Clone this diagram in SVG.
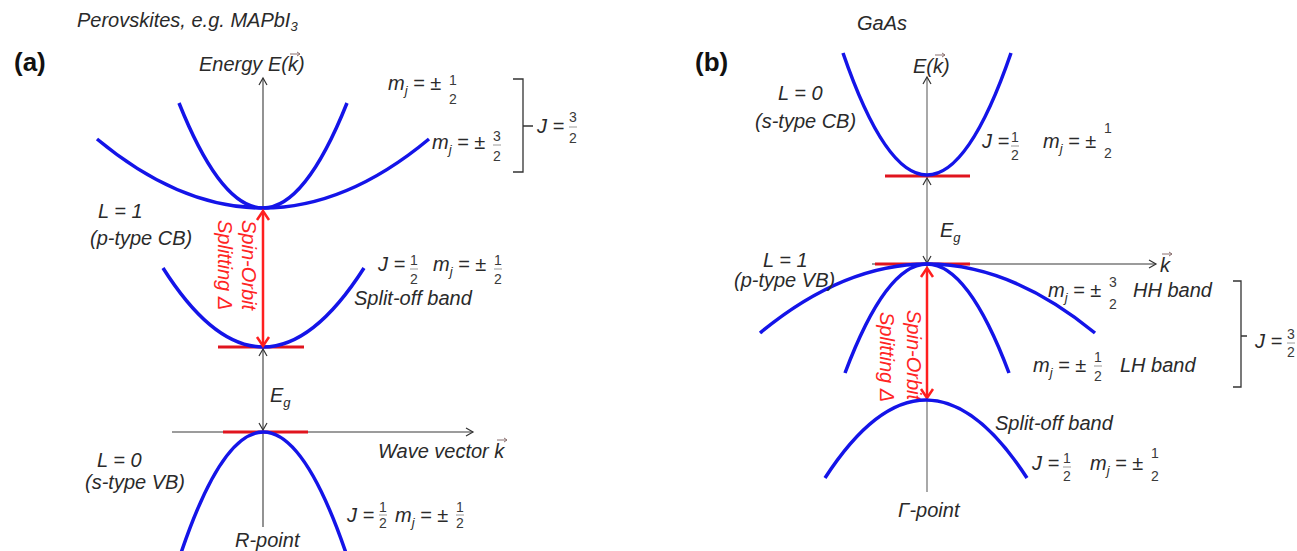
<svg xmlns="http://www.w3.org/2000/svg" width="1297" height="551" viewBox="0 0 1297 551">
<defs>
<style>
.t{font-family:"Liberation Sans",Arial,sans-serif;font-style:italic;font-size:20px;fill:#2a2a2a}
.s{font-size:13px}
.d{font-family:"Liberation Sans",Arial,sans-serif;font-size:14px;fill:#3a3a3a;text-anchor:middle}
.bar{stroke:#9a9a9a;stroke-width:1}
.lbl{font-family:"Liberation Sans",Arial,sans-serif;font-weight:bold;font-size:26px;fill:#111}
.red{font-family:"Liberation Sans",Arial,sans-serif;font-style:italic;font-size:20px;fill:#ff2424}
.band{fill:none;stroke:#1414e8;stroke-width:3.5}
.edge{stroke:#e0141e;stroke-width:3}
.axa{fill:none;stroke:#3a3a3a;stroke-width:1.1}
.axb{fill:none;stroke:#7a7a7a;stroke-width:1.3}
.chev{fill:none;stroke:#333;stroke-width:1.2}
.rarr{fill:none;stroke:#ff1f1f;stroke-width:2.5}
.vec{fill:none;stroke:#8a7070;stroke-width:1}
.brk{fill:none;stroke:#333;stroke-width:1.3}
</style>
</defs>
<rect width="1297" height="551" fill="#ffffff"/>

<g id="panel-a">
  <g id="a-titles">
    <text class="t" x="77" y="27">Perovskites, e.g. MAPbI<tspan class="s" dy="4">3</tspan></text>
    <text class="lbl" x="14" y="71">(a)</text>
  </g>
  <g id="a-axes">
    <line class="axa" x1="263" y1="78" x2="263" y2="527"/>
    <path class="chev" d="M259,85 L263,78 L267,85"/>
    <line class="axa" x1="172" y1="432" x2="473" y2="432"/>
    <path class="chev" d="M466,428 L473,432 L466,436"/>
    <path class="chev" d="M259,356 L263,349 L267,356"/>
    <path class="chev" d="M259,423 L263,430 L267,423"/>
    <text class="t" x="199" y="71">Energy E(k)</text>
    <path class="vec" d="M290,54 H300 M297,52 L300,54 L297,56"/>
    <text class="t" x="378" y="458">Wave vector k</text>
    <path class="vec" d="M497,440 H507 M504,438 L507,440 L504,442"/>
    <text class="t" x="270" y="402">E<tspan class="s" dy="5">g</tspan></text>
    <text class="t" x="235" y="547">R-point</text>
  </g>
  <g id="a-edges">
    <line class="edge" x1="218" y1="347" x2="304" y2="347"/>
    <line class="edge" x1="223" y1="432" x2="308" y2="432"/>
  </g>
  <g id="a-cb-j32">
    <path class="band" d="M179,103 Q263,313 347,103"/>
    <path class="band" d="M97,139 Q263,277 429,139"/>
    <text class="t" x="388" y="90">m<tspan class="s" dy="5">j</tspan><tspan dy="-5"> = ±</tspan></text>
    <text class="d" x="453" y="85">1</text><text class="d" x="453" y="104">2</text>
    <text class="t" x="432" y="149">m<tspan class="s" dy="5">j</tspan><tspan dy="-5"> = ±</tspan></text>
    <text class="d" x="497" y="141">3</text><line class="bar" x1="493" y1="145" x2="501" y2="145"/><text class="d" x="497" y="161">2</text>
    <path class="brk" d="M513,79 H523 V172 H513 M523,126 H533"/>
    <text class="t" x="537" y="133">J =</text>
    <text class="d" x="573" y="122">3</text><line class="bar" x1="569" y1="127" x2="577" y2="127"/><text class="d" x="573" y="143">2</text>
    <text class="t" x="98" y="218">L = 1</text>
    <text class="t" x="90" y="245">(p-type CB)</text>
  </g>
  <g id="a-splitoff">
    <path class="band" d="M163,268 Q263,426 364,268"/>
    <text class="t" x="378" y="271">J =</text>
    <text class="d" x="414" y="265">1</text><line class="bar" x1="410" y1="269" x2="418" y2="269"/><text class="d" x="414" y="284">2</text>
    <text class="t" x="433" y="271">m<tspan class="s" dy="5">j</tspan><tspan dy="-5"> = ±</tspan></text>
    <text class="d" x="498" y="265">1</text><line class="bar" x1="494" y1="269" x2="502" y2="269"/><text class="d" x="498" y="284">2</text>
    <text class="t" x="354" y="305">Split-off band</text>
  </g>
  <g id="a-so-arrow">
    <line class="rarr" x1="263" y1="212" x2="263" y2="344"/>
    <path class="rarr" d="M257,220 L263,211 L269,220"/>
    <path class="rarr" d="M257,337 L263,346 L269,337"/>
    <text class="red" transform="translate(242,220) rotate(90)">Spin-Orbit</text>
    <text class="red" transform="translate(218,220) rotate(90)">Splitting Δ</text>
  </g>
  <g id="a-vb">
    <path class="band" d="M181,553 Q263,311 346,553"/>
    <text class="t" x="97" y="467">L = 0</text>
    <text class="t" x="85" y="489">(s-type VB)</text>
    <text class="t" x="347" y="522">J =</text>
    <text class="d" x="383" y="512">1</text><line class="bar" x1="379" y1="515" x2="387" y2="515"/><text class="d" x="383" y="528">2</text>
    <text class="t" x="395" y="522">m<tspan class="s" dy="5">j</tspan><tspan dy="-5"> = ±</tspan></text>
    <text class="d" x="460" y="512">1</text><line class="bar" x1="456" y1="515" x2="464" y2="515"/><text class="d" x="460" y="528">2</text>
  </g>
</g>

<g id="panel-b">
  <g id="b-titles">
    <text class="t" x="857" y="30">GaAs</text>
    <text class="lbl" x="695" y="71">(b)</text>
  </g>
  <g id="b-axes">
    <line class="axb" x1="927" y1="77" x2="927" y2="492"/>
    <path class="chev" d="M923,84 L927,77 L931,84"/>
    <path class="chev" d="M923,185 L927,178 L931,185"/>
    <path class="chev" d="M923,256 L927,263 L931,256"/>
    <line class="axb" x1="872" y1="264" x2="1156" y2="264"/>
    <path class="chev" d="M1149,260 L1156,264 L1149,268"/>
    <text class="t" x="913" y="73">E(k)</text>
    <path class="vec" d="M935,55 H945 M942,53 L945,55 L942,57"/>
    <text class="t" x="1160" y="272">k</text>
    <path class="vec" d="M1162,254 H1172 M1169,252 L1172,254 L1169,256"/>
    <text class="t" x="940" y="237">E<tspan class="s" dy="5">g</tspan></text>
    <text class="t" x="898" y="517">Γ-point</text>
  </g>
  <g id="b-edges">
    <line class="edge" x1="885" y1="176" x2="970" y2="176"/>
    <line class="edge" x1="875" y1="264" x2="970" y2="264"/>
  </g>
  <g id="b-cb">
    <path class="band" d="M843,53 Q927,297 1011,53"/>
    <text class="t" x="778" y="100">L = 0</text>
    <text class="t" x="755" y="128">(s-type CB)</text>
    <text class="t" x="982" y="148">J =</text>
    <text class="d" x="1015" y="142">1</text><line class="bar" x1="1011" y1="146" x2="1019" y2="146"/><text class="d" x="1015" y="160">2</text>
    <text class="t" x="1043" y="148">m<tspan class="s" dy="5">j</tspan><tspan dy="-5"> = ±</tspan></text>
    <text class="d" x="1108" y="133">1</text><text class="d" x="1108" y="158">2</text>
  </g>
  <g id="b-so-arrow">
    <text class="red" transform="translate(907,310) rotate(90)">Spin-Orbit</text>
    <text class="red" transform="translate(880,312) rotate(90)">Splitting Δ</text>
    <line class="rarr" x1="927" y1="269" x2="927" y2="396"/>
    <path class="rarr" d="M921,277 L927,268 L933,277"/>
    <path class="rarr" d="M921,389 L927,398 L933,389"/>
  </g>
  <g id="b-vb-j32">
    <path class="band" d="M760,333 Q927,195 1095,333"/>
    <path class="band" d="M845,373 Q927,155 1009,373"/>
    <text class="t" x="763" y="267">L = 1</text>
    <text class="t" x="734" y="287">(p-type VB)</text>
    <text class="t" x="1048" y="297">m<tspan class="s" dy="5">j</tspan><tspan dy="-5"> = ±</tspan></text>
    <text class="d" x="1113" y="287">3</text><text class="d" x="1113" y="309">2</text>
    <text class="t" x="1133" y="297">HH band</text>
    <text class="t" x="1033" y="372">m<tspan class="s" dy="5">j</tspan><tspan dy="-5"> = ±</tspan></text>
    <text class="d" x="1098" y="362">1</text><line class="bar" x1="1094" y1="366" x2="1102" y2="366"/><text class="d" x="1098" y="381">2</text>
    <text class="t" x="1120" y="372">LH band</text>
    <path class="brk" d="M1233,281 H1241 V387 H1233 M1241,336 H1247"/>
    <text class="t" x="1255" y="348">J =</text>
    <text class="d" x="1291" y="339">3</text><line class="bar" x1="1287" y1="343" x2="1295" y2="343"/><text class="d" x="1291" y="357">2</text>
  </g>
  <g id="b-splitoff">
    <path class="band" d="M825,478 Q926,322 1027,478"/>
    <text class="t" x="995" y="430">Split-off band</text>
    <text class="t" x="1032" y="470">J =</text>
    <text class="d" x="1067" y="463">1</text><line class="bar" x1="1063" y1="467" x2="1071" y2="467"/><text class="d" x="1067" y="481">2</text>
    <text class="t" x="1090" y="470">m<tspan class="s" dy="5">j</tspan><tspan dy="-5"> = ±</tspan></text>
    <text class="d" x="1155" y="458">1</text><text class="d" x="1155" y="481">2</text>
  </g>
</g>
</svg>
